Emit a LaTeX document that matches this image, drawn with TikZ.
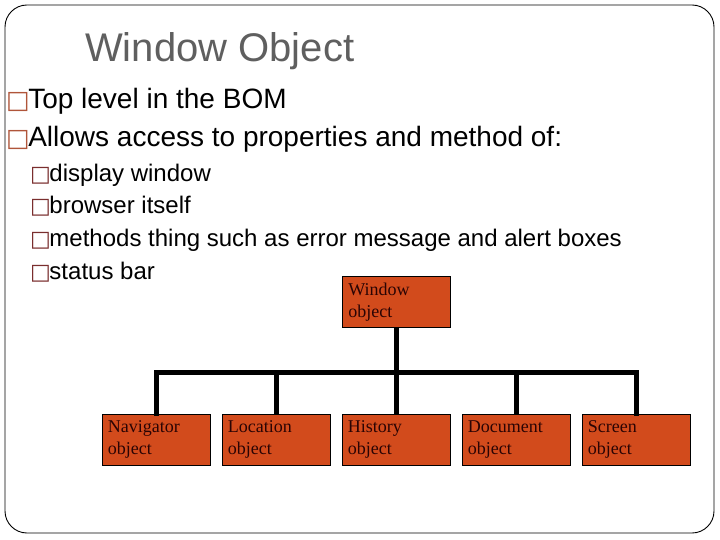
\documentclass[tikz,border=0pt]{standalone}
\usepackage{fontspec}
\setmainfont{Liberation Sans}
\newfontfamily\boxglyph{DejaVu Sans}
\newfontfamily\serifbox{Liberation Serif}
\definecolor{titlegray}{HTML}{5F5F5F}
\definecolor{bulA}{HTML}{B0553A}
\definecolor{bulB}{HTML}{7A2E2E}
\definecolor{objfill}{HTML}{D24B1C}
\definecolor{objtext}{HTML}{2A0404}
\newcommand{\bulA}{{\color{bulA}\boxglyph\fontsize{25}{25}\selectfont □}\kern-1.5pt}
\newcommand{\bulB}{{\color{bulB}\boxglyph\fontsize{22}{22}\selectfont □}\kern-1.5pt}
\tikzset{
  lvlone/.style={anchor=base west, inner sep=0pt, font=\fontsize{28}{32}\selectfont},
  lvltwo/.style={anchor=base west, inner sep=0pt, font=\fontsize{24}{28}\selectfont},
  objbox/.style={draw=black, line width=0.8pt, fill=objfill, minimum width=108pt, minimum height=51pt, inner sep=0pt},
  objlabel/.style={anchor=north west, inner sep=0pt, text=objtext, align=left, font=\serifbox\fontsize{18}{22}\selectfont},
  tree/.style={line width=5pt, black}
}
\begin{document}
\begin{tikzpicture}[x=1pt, y=-1pt]
\useasboundingbox (0,0) rectangle (720,540);
\fill[white] (0,0) rectangle (720,540);
\draw[line width=0.9pt, rounded corners=22pt] (5,5) rectangle (714,533);

\node[anchor=base west, inner sep=0pt, text=titlegray, font=\fontsize{40}{44}\selectfont] (title) at (85,62) {Window Object};

\node[lvlone] (b1) at (6,109) {\bulA Top level in the BOM};
\node[lvlone] (b2) at (6,147) {\bulA Allows access to properties and method of:};
\node[lvltwo] (c1) at (30,182) {\bulB display window};
\node[lvltwo] (c2) at (30,214) {\bulB browser itself};
\node[lvltwo] (c3) at (30,247) {\bulB methods thing such as error message and alert boxes};
\node[lvltwo] (c4) at (30,279) {\bulB status bar};

% boxes
\node[objbox] (win) at (396.5,301.5) {};
\node[objbox] (nav) at (156,439.5) {};
\node[objbox] (loc) at (276,439.5) {};
\node[objbox] (his) at (396,439.5) {};
\node[objbox] (doc) at (516,439.5) {};
\node[objbox] (scr) at (636,439.5) {};

\node[objlabel] (winl) at ([shift={(6,7)}]win.north west) {Window\\object};
\node[objlabel] (navl) at ([shift={(6,7)}]nav.north west) {Navigator\\object};
\node[objlabel] (locl) at ([shift={(6,7)}]loc.north west) {Location\\object};
\node[objlabel] (hisl) at ([shift={(6,7)}]his.north west) {History\\object};
\node[objlabel] (docl) at ([shift={(6,7)}]doc.north west) {Document\\object};
\node[objlabel] (scrl) at ([shift={(6,7)}]scr.north west) {Screen\\object};

% tree connectors
\coordinate (bus) at (396,372);
\draw[tree] (win.south) -- (win.south |- bus);
\draw[tree, line cap=rect] (nav.north) |- (scr.north |- bus) -- (scr.north);
\draw[tree] (loc.north) -- (loc.north |- bus);
\draw[tree] (his.north) -- (his.north |- bus);
\draw[tree] (doc.north) -- (doc.north |- bus);
\end{tikzpicture}
\end{document}
